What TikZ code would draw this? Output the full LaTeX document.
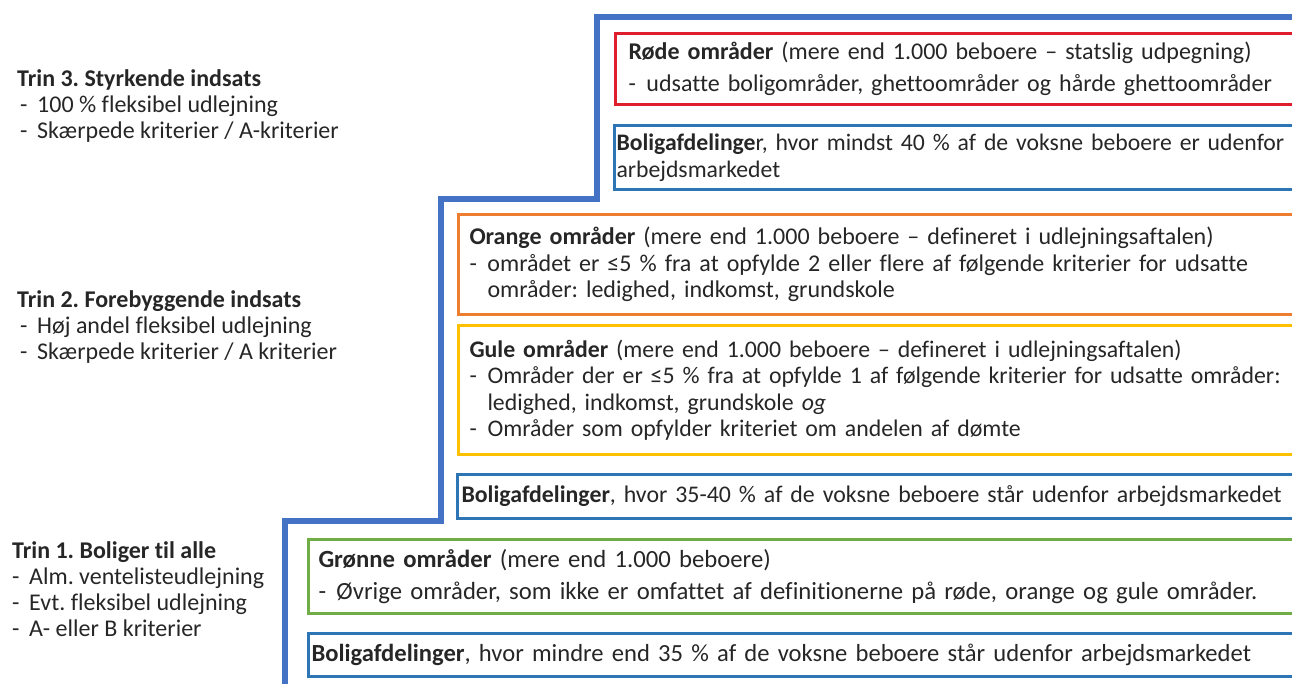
\documentclass[tikz,border=0pt]{standalone}
\usepackage{fontspec}
\setmainfont{Carlito}[Ligatures=NoCommon]
\frenchspacing

\definecolor{trappeblaa}{RGB}{68,114,196}
\definecolor{kantblaa}{RGB}{46,117,182}
\definecolor{roed}{RGB}{222,30,45}
\definecolor{orange}{RGB}{237,125,49}
\definecolor{gul}{RGB}{255,192,0}
\definecolor{groen}{RGB}{112,173,71}
\definecolor{tekst}{RGB}{38,38,38}

\newcommand{\boksfont}{\fontsize{24}{26.5}\selectfont}
\newcommand{\punkt}[1]{\par\hangindent=18pt\hangafter=1\noindent\makebox[18pt][l]{-}#1\par}
\newcommand{\linje}{\makebox[17pt][l]{-}}

\tikzset{
  felt/.style={draw=#1, line width=3pt, anchor=north west, inner ysep=0pt,
    text width=1000pt, align=left, font=\boksfont, text=tekst},
  trin/.style={anchor=north west, inner sep=0pt, align=left,
    font=\fontsize{24}{26}\selectfont, text=tekst}
}

\begin{document}
\begin{tikzpicture}[x=1pt,y=-1pt]
    \useasboundingbox (0,0) rectangle (1292,684);
    \clip (0,0) rectangle (1292,684);

    % Trappen
    \coordinate (T0) at (1310,17);
    \coordinate (T1) at (597,17);
    \coordinate (T2) at (597,199);
    \coordinate (T3) at (441,199);
    \coordinate (T4) at (441,521);
    \coordinate (T5) at (285,521);
    \coordinate (T6) at (285,700);
    \draw[trappeblaa,line width=6pt] (T0) -- (T1) -- (T2) -- (T3) -- (T4) -- (T5) -- (T6);

    % Trin 3
    \node[trin] (trin3) at (17,69) {\textbf{Trin 3. Styrkende indsats}\\
      \hspace*{3pt}\linje 100 \% fleksibel udlejning\\
      \hspace*{3pt}\linje Skærpede kriterier / A-kriterier};
    \node[felt=roed, inner xsep=13pt, minimum height=71pt] (roede) at (614,32)
      {\textbf{Røde områder} (mere end 1.000 beboere – statslig udpegning)\par\vspace{6pt}
       \punkt{udsatte boligområder, ghettoområder og hårde ghettoområder}};
    \node[felt=kantblaa, inner xsep=2pt, minimum height=64pt,
      font=\fontsize{23.7}{26.5}\selectfont] (bolig3) at (613,124)
      {\textbf{Boligafdelinge}r, hvor mindst 40 \% af de voksne beboere er udenfor\\
       arbejdsmarkedet};

    % Trin 2
    \node[trin] (trin2) at (17,290) {\textbf{Trin 2. Forebyggende indsats}\\
      \hspace*{3pt}\linje Høj andel fleksibel udlejning\\
      \hspace*{3pt}\linje Skærpede kriterier / A kriterier};
    \node[felt=orange, inner xsep=11pt, minimum height=100pt] (orange) at (457,213)
      {\textbf{Orange områder} (mere end 1.000 beboere – defineret i udlejningsaftalen)
       \punkt{området er ≤5 \% fra at opfylde 2 eller flere af følgende kriterier for udsatte\newline
       områder: ledighed, indkomst, grundskole}};
    \node[felt=gul, inner xsep=11pt, minimum height=129pt,
      font=\fontsize{23.8}{26.5}\selectfont] (gule) at (457,324)
      {\textbf{Gule områder} (mere end 1.000 beboere – defineret i udlejningsaftalen)
       \punkt{Områder der er ≤5 \% fra at opfylde 1 af følgende kriterier for udsatte områder:\newline
       ledighed, indkomst, grundskole \textit{og}}
       \punkt{Områder som opfylder kriteriet om andelen af dømte}};
    \node[felt=kantblaa, inner xsep=4pt, minimum height=44pt,
      font=\fontsize{23.85}{26.5}\selectfont] (bolig2) at (456,473)
      {\textbf{Boligafdelinger}, hvor 35-40 \% af de voksne beboere står udenfor arbejdsmarkedet};

    % Trin 1
    \node[trin] (trin1) at (12,541) {\textbf{Trin 1. Boliger til alle}\\
      \linje Alm. ventelisteudlejning\\
      \linje Evt. fleksibel udlejning\\
      \linje A- eller B kriterier};
    \node[felt=groen, inner xsep=10pt, minimum height=74pt,
      font=\fontsize{24.7}{26.5}\selectfont] (groenne) at (307,538)
      {\textbf{Grønne områder} (mere end 1.000 beboere)\par\vspace{6pt}
       \punkt{Øvrige områder, som ikke er omfattet af definitionerne på røde, orange og gule områder.}};
    \node[felt=kantblaa, inner xsep=3pt, minimum height=43pt,
      font=\fontsize{24.6}{26.5}\selectfont] (bolig1) at (307,632)
      {\textbf{Boligafdelinger}, hvor mindre end 35 \% af de voksne beboere står udenfor arbejdsmarkedet};
\end{tikzpicture}
\end{document}
